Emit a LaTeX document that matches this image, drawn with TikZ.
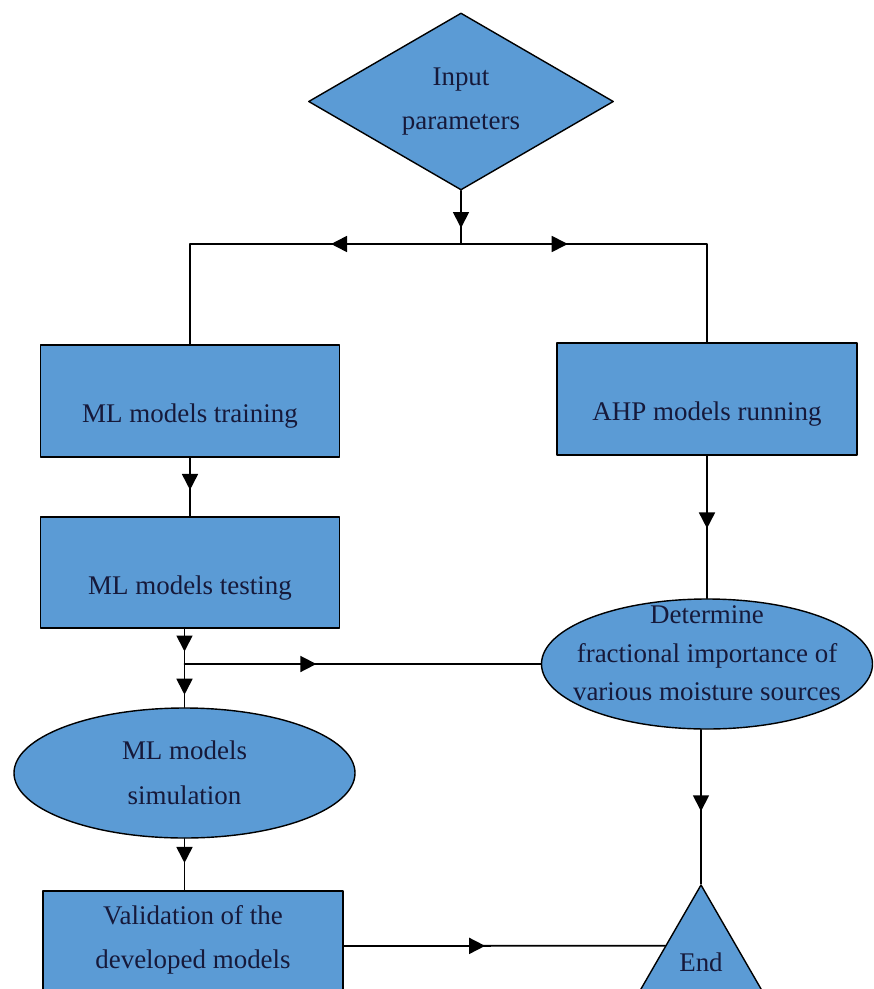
\documentclass[tikz,border=0pt]{standalone}
\usepackage{fontspec}
\setmainfont{Liberation Serif}
\usetikzlibrary{shapes.geometric,arrows.meta,decorations.markings,calc}
\definecolor{FlowBlue}{HTML}{5B9BD5}
\definecolor{FlowInk}{HTML}{16193A}
\newcommand{\flowfont}{\fontsize{23}{38}\selectfont}
\newcommand{\flowlines}[1]{\begin{tabular}{@{}c@{}}#1\end{tabular}}

\begin{document}
\begin{tikzpicture}[x=0.3mm,y=-0.3mm,line cap=round,line join=round,
  block/.style={draw=black,line width=1.2pt,fill=FlowBlue,text=FlowInk,font=\flowfont,inner sep=0pt,align=center},
  procbox/.style={block,rectangle,minimum width=8.96cm,minimum height=3.36cm,text height=1.45cm,text depth=0.15cm},
  flowline/.style={line width=1.5pt},
  arrowat/.style={postaction={decorate,decoration={markings,mark=at position #1 with {\arrow{Triangle[length=4.8mm,width=4.8mm]}}}}}]
  \useasboundingbox (0,0) rectangle (873,989);
  \clip (0,0) rectangle (873,989);
  % shapes
  \node[block,diamond,inner sep=-0.5cm,minimum width=9.15cm,minimum height=5.31cm] (inp) at (461,101.5) {Input\\parameters};
  \node[procbox] (train) at (190,401) {ML models training};
  \node[procbox,minimum width=9cm] (ahp) at (707,399) {AHP models running};
  \node[procbox,minimum height=3.33cm] (test) at (190,572.5) {ML models testing};
  \node[block,ellipse,inner sep=-1.2cm,minimum width=9.93cm,minimum height=3.9cm,font=\fontsize{23}{33}\selectfont,text height=1.2cm,text depth=1.34cm] (det) at (707,664) {\flowlines{Determine\\fractional importance of\\various moisture sources}};
  \node[block,ellipse,minimum width=10.23cm,minimum height=3.9cm] (sim) at (184.5,773) {ML models\\simulation};
  \node[block,rectangle,minimum width=9cm,minimum height=3.3cm,text height=1.2cm,text depth=1.27cm] (val) at (193,946) {\flowlines{Validation of the\\developed models}};
  \node[block,regular polygon,regular polygon sides=3,minimum size=4.62cm] (endtri) at (701,962) {End};
  % helper points
  \coordinate (split) at (461,244);
  \coordinate (lcorner) at (train.north |- split);
  \coordinate (rcorner) at (ahp.north |- split);
  \coordinate (tjoin) at (sim.north |- det.west);
  \coordinate (testout) at (sim.north |- test.south);
  \coordinate (endtop) at (endtri.corner 1);
  \coordinate (endin) at ($(endtri.corner 1)!0.528!(endtri.corner 2)$);
  \coordinate (detout) at (det.south -| endtop);
  % connectors
  \draw[flowline,arrowat=0.70] (inp.south) -- (split);
  \draw[flowline,arrowat=0.35] (split) -- (lcorner) -- (train.north);
  \draw[flowline,arrowat=0.31] (split) -- (rcorner) -- (ahp.north);
  \draw[flowline,arrowat=0.55] (train) -- (test);
  \draw[flowline,arrowat=0.29,arrowat=0.84] (testout) -- (sim);
  \draw[flowline,arrowat=0.37] (tjoin) -- (det);
  \draw[flowline,arrowat=0.51] (ahp) -- (det);
  \draw[flowline,arrowat=0.53] (detout) -- (endtop);
  \draw[flowline,arrowat=0.47] (sim.south) -- (sim.south |- val.north);
  \draw[flowline,arrowat=0.44] (val.east) -- (endin);
\end{tikzpicture}
\end{document}
